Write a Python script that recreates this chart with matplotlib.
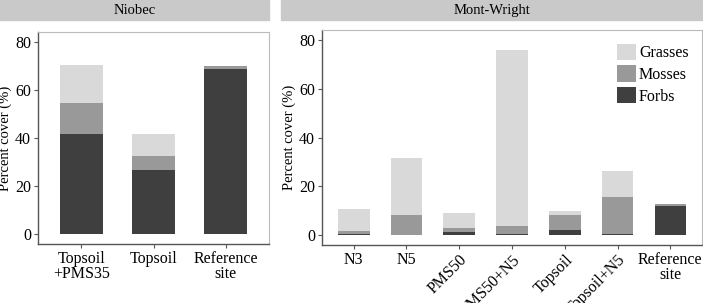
import matplotlib.pyplot as plt
from matplotlib.patches import Rectangle

plt.rcParams["font.family"] = ["Liberation Serif", "DejaVu Serif"]

# Niobec
niobec_sites = ["Topsoil\n+PMS35", "Topsoil", "Reference\nsite"]
niobec_forbs = [41.5, 26.7, 68.7]
niobec_mosses = [13.0, 5.9, 1.0]
niobec_grasses = [15.7, 9.1, 0.0]

# Mont-Wright
mw_sites = ["N3", "N5", "PMS50", "PMS50+N5", "Topsoil", "Topsoil+N5", "Reference\nsite"]
mw_rotated = [False, False, True, True, True, True, False]
mw_forbs = [0.4, 0.2, 1.2, 0.4, 2.0, 0.6, 11.9]
mw_mosses = [1.2, 8.1, 1.7, 3.4, 6.3, 15.1, 0.8]
mw_grasses = [9.1, 23.4, 6.1, 71.9, 1.5, 10.4, 0.2]

colors = {"Grasses": "#d9d9d9", "Mosses": "#999999", "Forbs": "#3f3f3f"}
strip_color = "#c9c9c9"

fig = plt.figure(figsize=(7.03, 3.03), dpi=100)
W, H = 703, 303


def px_axes(x0, y0, x1, y1):
    return fig.add_axes([x0 / W, 1 - y1 / H, (x1 - x0) / W, (y1 - y0) / H])


def strip(x0, x1, label):
    fig.patches.append(Rectangle((x0 / W, 1 - 20 / H), (x1 - x0) / W, 20 / H,
                                 transform=fig.transFigure, color=strip_color,
                                 zorder=0))
    fig.text((x0 + x1) / 2 / W, 1 - 10.5 / H, label, ha="center", va="center",
             fontsize=10.5)


def draw_panel(ax, sites, forbs, mosses, grasses):
    x = list(range(1, len(sites) + 1))
    bottoms2 = [f + m for f, m in zip(forbs, mosses)]
    ax.bar(x, forbs, width=0.6, color=colors["Forbs"], label="Forbs")
    ax.bar(x, mosses, width=0.6, bottom=forbs, color=colors["Mosses"], label="Mosses")
    ax.bar(x, grasses, width=0.6, bottom=bottoms2, color=colors["Grasses"], label="Grasses")
    ax.set_xlim(0.4, len(sites) + 0.6)
    ax.set_ylim(-4, 84)
    ax.set_yticks([0, 20, 40, 60, 80])
    ax.set_xticks(x)
    ax.set_ylabel("Percent cover (%)", fontsize=10.5, labelpad=2)
    ax.tick_params(axis="both", direction="out", length=3, width=0.8,
                   color="#555555", labelsize=11.5, pad=2)
    for side in ["left", "bottom"]:
        ax.spines[side].set_color("#555555")
        ax.spines[side].set_linewidth(1.0)
    for side in ["top", "right"]:
        ax.spines[side].set_color("#bbbbbb")
        ax.spines[side].set_linewidth(0.8)
    return x


ax1 = px_axes(38, 32, 269, 244)
x1 = draw_panel(ax1, niobec_sites, niobec_forbs, niobec_mosses, niobec_grasses)
ax1.set_xticklabels(niobec_sites, linespacing=0.9)
strip(0, 269, "Niobec")

ax2 = px_axes(322, 30, 702, 245)
x2 = draw_panel(ax2, mw_sites, mw_forbs, mw_mosses, mw_grasses)
ax2.set_xticklabels(mw_sites, linespacing=0.9)
for lab, rot in zip(ax2.get_xticklabels(), mw_rotated):
    if rot:
        lab.set_rotation(45)
        lab.set_ha("right")
        lab.set_rotation_mode("anchor")
strip(281, 703, "Mont-Wright")

handles, labels = ax2.get_legend_handles_labels()
ax2.legend(handles[::-1], labels[::-1], loc="upper right", frameon=False,
           fontsize=11.5, handlelength=1.2, handleheight=1.2, handletextpad=0.2,
           labelspacing=0.25, bbox_to_anchor=(0.99, 0.98), borderaxespad=0.2)

fig.savefig("out.png", dpi=100)
